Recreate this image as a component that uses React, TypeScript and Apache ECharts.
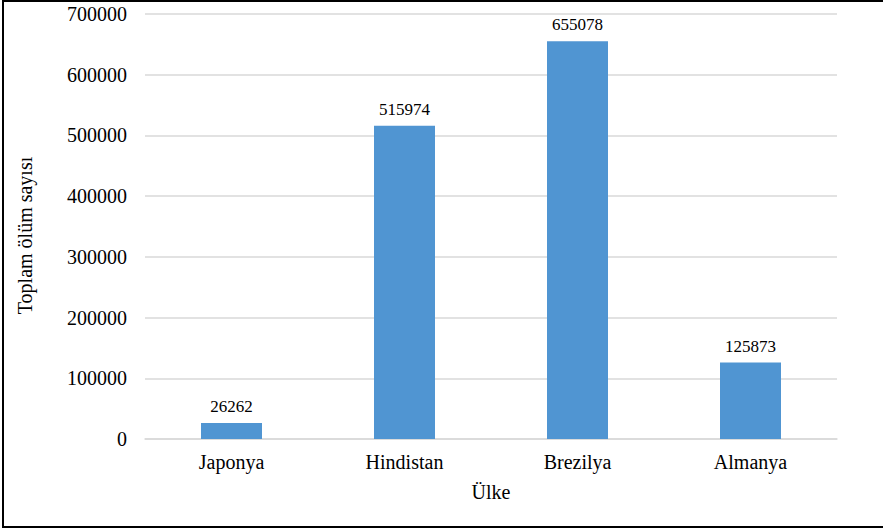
import React, { useEffect, useRef } from "react";
import * as echarts from "echarts";

const categories = ["Japonya", "Hindistan", "Brezilya", "Almanya"];
const deaths = [26262, 515974, 655078, 125873];
const yTicks = { min: 0, max: 700000, interval: 100000 };

export default function App() {
  const ref = useRef<HTMLDivElement>(null);
  useEffect(() => {
    if (!ref.current) return;
    const chart = echarts.init(ref.current, null, { renderer: "svg" });
    const font = "Liberation Serif";
    chart.setOption({
      animation: false,
      backgroundColor: "#ffffff",
      textStyle: { fontFamily: font },
      grid: { left: 145, right: 46, top: 14, bottom: 92, containLabel: false },
      graphic: [
        {
          type: "rect",
          shape: { x: 3, y: 1, width: 900, height: 526 },
          style: { fill: "none", stroke: "#000000", lineWidth: 2 },
          silent: true,
        },
      ],
      xAxis: {
        type: "category",
        data: categories,
        name: "Ülke",
        nameLocation: "middle",
        nameGap: 43,
        nameTextStyle: { fontFamily: font, fontSize: 20, color: "#000" },
        axisLine: { lineStyle: { color: "#d9d9d9", width: 1.5 } },
        axisTick: { show: false },
        axisLabel: { fontFamily: font, fontSize: 20, color: "#000", margin: 13 },
      },
      yAxis: {
        type: "value",
        min: yTicks.min,
        max: yTicks.max,
        interval: yTicks.interval,
        name: "Toplam ölüm sayısı",
        nameLocation: "middle",
        nameGap: 110,
        nameTextStyle: {
          fontFamily: font,
          fontSize: 20,
          color: "#000",
          padding: [0, 18, 0, 0],
        },
        axisLine: { show: false },
        axisTick: { show: false },
        axisLabel: {
          fontFamily: font,
          fontSize: 20,
          color: "#000",
          margin: 18,
          formatter: (v: number) => String(v),
        },
        splitLine: { lineStyle: { color: "#d9d9d9", width: 1.5 } },
      },
      series: [
        {
          type: "bar",
          data: deaths,
          barWidth: 61,
          itemStyle: { color: "#5095d2" },
          label: {
            show: true,
            position: "top",
            distance: 8,
            fontFamily: font,
            fontSize: 17,
            color: "#000",
          },
        },
      ],
    });
    return () => chart.dispose();
  }, []);
  return (
    <div
      ref={ref}
      style={{ position: "absolute", left: 0, top: 0, width: 883, height: 531 }}
    />
  );
}
